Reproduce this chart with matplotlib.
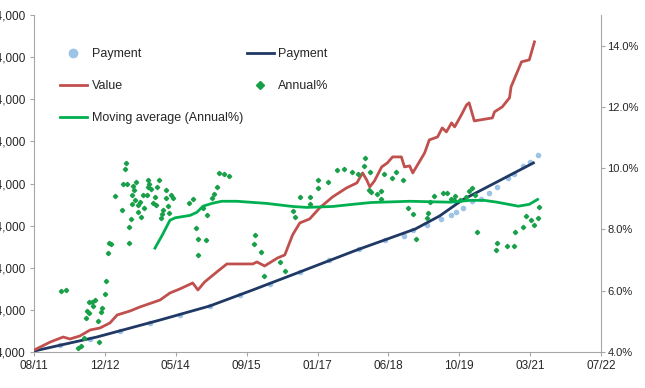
import pandas as pd
import matplotlib.pyplot as plt
from matplotlib.ticker import FuncFormatter

# Time values are decimal years
pay_dot_t = [2011.61, 2012.11, 2012.69, 2013.27, 2013.84, 2014.42, 2015.00, 2015.58,
             2016.16, 2016.74, 2017.31, 2017.89, 2018.38, 2018.76, 2018.92, 2019.19,
             2019.47, 2019.65, 2019.76, 2019.90, 2020.07, 2020.23, 2020.40, 2020.55,
             2020.77, 2020.88, 2021.04, 2021.19, 2021.33]
pay_dot_v = [4240, 5660, 7090, 8990, 10890, 12790, 14925, 17540,
             20150, 23000, 25850, 28460, 30600, 31550, 32975, 34160,
             35590, 36540, 37250, 38200, 39860, 40340, 41760, 43190,
             45325, 46275, 48180, 49125, 50790]

pay_line_t = [2011.61, 2012.82, 2014.04, 2015.00, 2015.83, 2016.74, 2017.84, 2018.97,
              2019.44, 2019.88, 2021.25]
pay_line_v = [4240, 7560, 11600, 14925, 18725, 23000, 28225, 33210,
              36300, 40100, 48890]

value_t = [2011.61, 2011.92, 2012.17, 2012.30, 2012.49, 2012.69, 2012.88, 2013.07,
           2013.21, 2013.46, 2013.65, 2014.04, 2014.23, 2014.42, 2014.67, 2014.77,
           2014.90, 2015.16, 2015.33, 2015.83, 2015.91, 2016.06, 2016.31, 2016.45,
           2016.60, 2016.74, 2016.93, 2017.12, 2017.37, 2017.64, 2017.84, 2017.95,
           2018.03, 2018.09, 2018.18, 2018.32, 2018.43, 2018.53, 2018.70, 2018.76,
           2018.86, 2018.92, 2019.15, 2019.24, 2019.40, 2019.49, 2019.57, 2019.67,
           2019.73, 2019.86, 2019.96, 2020.01, 2020.11, 2020.46, 2020.50, 2020.65,
           2020.79, 2020.82, 2021.02, 2021.17, 2021.27]
value_v = [4475, 6375, 7560, 7090, 7800, 9225, 9700, 10890,
           12790, 13740, 14690, 16350, 18010, 18960, 20390, 18725,
           20625, 23240, 24900, 24900, 25375, 24425, 26325, 27040,
           31790, 34640, 35590, 38200, 40810, 42950, 44140, 46510,
           44850, 43190, 44610, 47940, 48890, 50310, 50310, 47940,
           48180, 46510, 51260, 54350, 55060, 57200, 56250, 58390,
           57440, 60290, 62660, 63140, 58860, 59575, 61000, 62190,
           64330, 66940, 72880, 73350, 77625]

annual_t = [2012.13, 2012.23, 2012.46, 2012.51, 2012.57, 2012.61, 2012.63, 2012.67,
            2012.66, 2012.73, 2012.75, 2012.78, 2012.84, 2012.86, 2012.90, 2012.92,
            2012.98, 2013.00, 2013.03, 2013.05, 2013.09, 2013.17, 2013.30, 2013.32,
            2013.36, 2013.38, 2013.40, 2013.44, 2013.43, 2013.48, 2013.50, 2013.52,
            2013.54, 2013.49, 2013.56, 2013.58, 2013.61, 2013.62, 2013.65, 2013.67,
            2013.71, 2013.73, 2013.79, 2013.81, 2013.83, 2013.80, 2013.86, 2013.90,
            2013.94, 2013.98, 2014.02, 2013.96, 2014.06, 2014.08, 2014.10, 2014.15,
            2014.16, 2014.19, 2014.21, 2014.25, 2014.29, 2014.60, 2014.67, 2014.73,
            2014.77, 2014.78, 2014.92, 2014.87, 2014.94, 2015.04, 2015.08, 2015.14,
            2015.17, 2015.27, 2015.37, 2015.87, 2015.85, 2015.98, 2016.04, 2016.35,
            2016.45, 2016.60, 2016.64, 2016.74, 2016.93, 2016.94, 2017.08, 2017.09,
            2017.28, 2017.45, 2017.59, 2017.74, 2017.86, 2017.97, 2017.99, 2018.07,
            2018.09, 2018.12, 2018.22, 2018.30, 2018.31, 2018.36, 2018.51, 2018.59,
            2018.74, 2018.82, 2018.92, 2018.99, 2019.19, 2019.22, 2019.26, 2019.34,
            2019.51, 2019.59, 2019.65, 2019.71, 2019.74, 2019.84, 2019.94, 2020.00,
            2020.07, 2020.13, 2020.17, 2020.52, 2020.55, 2020.75, 2020.88, 2020.90,
            2021.04, 2021.11, 2021.21, 2021.27, 2021.33, 2021.36]
annual_p = [5.99, 6.02, 4.13, 4.20, 4.46, 5.11, 5.34, 5.27,
            5.63, 5.63, 5.50, 5.69, 5.01, 4.33, 5.30, 5.43,
            5.89, 6.31, 7.22, 7.55, 7.52, 9.08, 8.62, 9.47,
            9.96, 10.16, 9.47, 8.07, 7.55, 8.33, 8.82, 9.41,
            9.28, 9.11, 8.95, 9.54, 8.79, 8.56, 8.89, 8.40,
            9.11, 8.69, 9.11, 9.63, 9.50, 9.37, 9.31, 8.85,
            9.05, 9.37, 9.63, 8.79, 8.36, 8.49, 8.62, 9.28,
            9.02, 8.76, 8.53, 9.11, 9.02, 8.85, 8.98, 8.04,
            7.68, 7.16, 7.65, 8.69, 8.46, 9.02, 9.15, 9.37,
            9.83, 9.80, 9.73, 7.81, 7.52, 7.26, 6.48, 6.93,
            6.64, 8.59, 8.40, 9.05, 9.05, 8.82, 9.34, 9.60,
            9.54, 9.93, 9.96, 9.86, 9.80, 10.06, 10.32, 9.28,
            9.86, 9.21, 9.15, 9.24, 8.98, 9.80, 9.67, 9.89,
            9.63, 8.69, 8.49, 7.68, 8.36, 8.53, 8.89, 9.08,
            9.18, 9.18, 8.98, 8.95, 9.08, 8.95, 9.05, 9.24,
            9.34, 9.11, 7.91, 7.32, 7.55, 7.45, 7.45, 7.91,
            8.07, 8.43, 8.30, 8.14, 8.36, 8.72]

ma_t = [2013.94, 2014.08, 2014.23, 2014.33, 2014.62, 2014.75, 2014.87, 2015.04,
        2015.23, 2015.52, 2016.10, 2016.60, 2016.87, 2017.37, 2017.76, 2018.12,
        2018.86, 2019.65, 2020.03, 2020.30, 2020.55, 2020.96, 2021.17, 2021.33]
ma_p = [7.39, 7.81, 8.30, 8.38, 8.46, 8.56, 8.76, 8.85,
        8.92, 8.92, 8.85, 8.75, 8.72, 8.75, 8.82, 8.88,
        8.92, 8.89, 8.95, 8.95, 8.89, 8.76, 8.82, 8.98]

left_ticks = [4000, 14000, 24000, 34000, 44000, 54000, 64000, 74000, 84000]
right_ticks = [4, 6, 8, 10, 12, 14]
tick_start = "2011-08-10"
tick_step = "500D"


def to_dates(years):
    out = []
    for t in years:
        y = int(t)
        out.append(pd.Timestamp(y, 1, 1) + pd.Timedelta(days=(t - y) * 365.25))
    return out


x_ticks = pd.date_range(tick_start, periods=9, freq=tick_step)

plt.rcParams["font.family"] = "Liberation Sans"
fig = plt.figure(figsize=(6.45, 3.88), dpi=100)
ax = fig.add_axes([34 / 645, 1 - 352 / 388, 567 / 645, 337 / 388])
ax2 = ax.twinx()

grey = "#A6A6A6"
txt = "#262626"

dots, = ax.plot(to_dates(pay_dot_t), pay_dot_v, "o", ms=3, color="#9DC3E6",
                label="Payment", zorder=2)
pline, = ax.plot(to_dates(pay_line_t), pay_line_v, color="#1F3864", lw=2.0,
                 label="Payment", zorder=3)
val, = ax.plot(to_dates(value_t), value_v, color="#C0504D", lw=2.0,
               label="Value", zorder=4)

ann, = ax2.plot(to_dates(annual_t), annual_p, "D", ms=2.2, color="#18A048",
                mec="#18A048", label="Annual%", zorder=3)
ma, = ax2.plot(to_dates(ma_t), ma_p, color="#00B050", lw=2.0,
               label="Moving average (Annual%)", zorder=4)

ax.set_xlim(x_ticks[0], x_ticks[-1])
ax.set_xticks(x_ticks)
ax.set_xticklabels([d.strftime("%m/%y") for d in x_ticks])
ax.set_ylim(left_ticks[0], left_ticks[-1])
ax.set_yticks(left_ticks)
ax.yaxis.set_major_formatter(FuncFormatter(lambda v, p: f"{v:,.0f}"))

ax2.set_ylim(4, 15)
ax2.set_yticks(right_ticks)
ax2.yaxis.set_major_formatter(FuncFormatter(lambda v, p: f"{v:.1f}%"))

for a in (ax, ax2):
    a.spines["top"].set_visible(False)
    for s in a.spines.values():
        s.set_color(grey)
    a.tick_params(colors=grey, labelcolor=txt, labelsize=8.5, length=3, width=0.8)
ax.spines["right"].set_visible(False)
ax2.spines["left"].set_visible(False)
ax2.spines["bottom"].set_visible(False)
ax.tick_params(axis="x", pad=3)
ax.tick_params(axis="y", pad=3)
ax2.tick_params(axis="y", pad=1.5, labelsize=8)

leg = ax2.legend([dots, val, ma, pline, ann],
                 ["Payment", "Value", "Moving average (Annual%)", "Payment", "Annual%"],
                 ncol=2, frameon=False, loc="upper left",
                 bbox_to_anchor=(0.079, 0.899), bbox_transform=fig.transFigure,
                 prop={"family": "Liberation Sans", "size": 9},
                 handlelength=2.2, handletextpad=0.35, columnspacing=0.3,
                 labelspacing=1.6, borderpad=0.2, markerscale=2.0)
for t in leg.get_texts():
    t.set_color(txt)

fig.savefig("out.png", dpi=100)
